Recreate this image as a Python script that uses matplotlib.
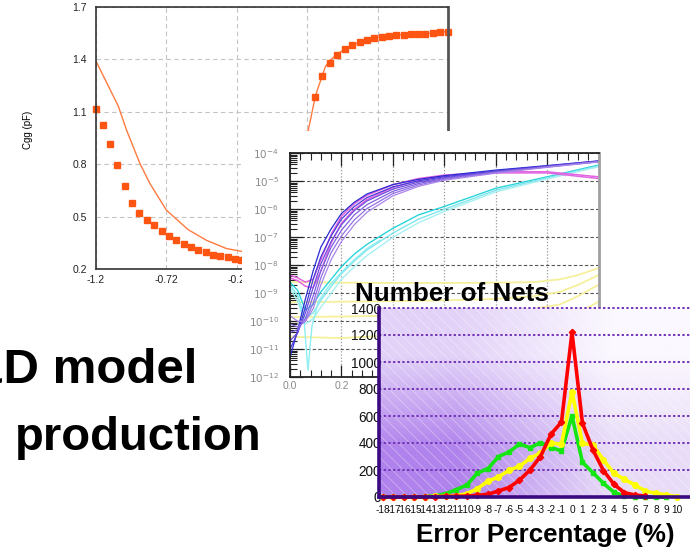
import matplotlib
matplotlib.use('Agg')
import matplotlib.pyplot as plt
import numpy as np
from matplotlib.patches import Rectangle
from matplotlib.ticker import LogLocator, MultipleLocator, NullFormatter

plt.rcParams['font.family'] = ['Liberation Sans', 'DejaVu Sans']
plt.rcParams['hatch.linewidth'] = 0.6

# ---------------- data: Cgg chart ----------------
cgg_meas_left_x = [-1.2, -1.150, -1.098, -1.049, -0.997, -0.942, -0.893, -0.838, -0.786, -0.734,
                   -0.682, -0.630, -0.578, -0.526, -0.474, -0.420, -0.368, -0.318, -0.264, -0.212, -0.167]
cgg_meas_left_y = [1.117, 1.025, 0.917, 0.796, 0.676, 0.580, 0.521, 0.481, 0.450, 0.420,
                   0.391, 0.367, 0.345, 0.326, 0.311, 0.298, 0.282, 0.275, 0.267, 0.259, 0.254]
cgg_model_left_x = [-1.2, -1.042, -0.983, -0.888, -0.817, -0.699, -0.545, -0.415, -0.273, -0.179, -0.037]
cgg_model_left_y = [1.390, 1.133, 0.995, 0.804, 0.689, 0.536, 0.425, 0.364, 0.317, 0.303, 0.280]
cgg_meas_right_x = [0.306, 0.358, 0.408, 0.462, 0.514, 0.568, 0.620, 0.672, 0.724, 0.776,
                    0.828, 0.880, 0.932, 0.984, 1.036, 1.088, 1.140, 1.193, 1.244, 1.299]
cgg_meas_right_y = [0.975, 1.182, 1.303, 1.379, 1.425, 1.459, 1.482, 1.497, 1.511, 1.522,
                    1.530, 1.536, 1.540, 1.541, 1.543, 1.545, 1.547, 1.551, 1.555, 1.559]
cgg_model_right_x = [0.29, 0.306, 0.325, 0.345, 0.37, 0.40, 0.43, 0.462, 0.514, 0.568, 0.62, 0.672,
                     0.724, 0.776, 0.828, 0.88, 0.932, 0.984, 1.036, 1.088, 1.14, 1.193, 1.244, 1.3]
cgg_model_right_y = [0.75, 0.99, 1.06, 1.14, 1.22, 1.29, 1.36, 1.395, 1.43, 1.46, 1.482, 1.497,
                     1.511, 1.522, 1.53, 1.536, 1.54, 1.541, 1.543, 1.545, 1.547, 1.551, 1.555, 1.56]
cgg_xticks = [-1.2, -0.7, -0.2, 0.3, 0.8, 1.3]
cgg_xticklabels = ['-1.2', '-0.72', '-0.2', '0.3', '0.8', '1.3']
cgg_yticks = [0.2, 0.5, 0.8, 1.1, 1.4, 1.7]

# ---------------- data: log chart (log10 of current) ----------------
iv_x = [0, 0.03, 0.06, 0.09, 0.12, 0.16, 0.2, 0.25, 0.3, 0.4, 0.5, 0.6, 0.8, 1.0, 1.2]
iv_purple = [
    [-11.3, -10.3, -9.2, -8.2, -7.35, -6.7, -6.15, -5.75, -5.45, -5.12, -4.93, -4.80, -4.60, -4.44, -4.27],
    [-11.0, -10.4, -9.5, -8.5, -7.70, -6.95, -6.35, -5.90, -5.58, -5.20, -4.98, -4.84, -4.63, -4.45, -4.28],
    [-10.7, -10.4, -9.7, -8.8, -7.95, -7.15, -6.55, -6.05, -5.70, -5.28, -5.03, -4.87, -4.65, -4.47, -4.29],
    [-10.4, -10.3, -9.9, -9.1, -8.20, -7.35, -6.75, -6.20, -5.83, -5.36, -5.08, -4.90, -4.67, -4.48, -4.30],
    [-10.1, -10.2, -10.0, -9.35, -8.45, -7.55, -6.95, -6.38, -5.97, -5.44, -5.13, -4.93, -4.69, -4.49, -4.30],
    [-9.8, -10.0, -10.0, -9.55, -8.70, -7.80, -7.15, -6.55, -6.10, -5.52, -5.18, -4.96, -4.71, -4.50, -4.31],
]
iv_magenta = [
    [-8.35, -8.45, -8.6, -8.5, -7.8, -6.9, -6.25, -5.8, -5.5, -5.12, -4.90, -4.78, -4.66, -4.66, -4.84],
    [-8.45, -8.55, -8.75, -8.8, -8.2, -7.2, -6.5, -6.0, -5.65, -5.22, -4.97, -4.83, -4.70, -4.70, -4.90],
]
iv_cyan = [
    [-8.6, -8.9, -9.6, -9.4, -8.95, -8.5, -8.05, -7.6, -7.25, -6.68, -6.2, -5.9, -5.25, -4.84, -4.42],
    [-8.7, -9.1, -9.9, -9.7, -9.25, -8.75, -8.3, -7.85, -7.45, -6.85, -6.35, -6.0, -5.32, -4.88, -4.45],
    [-8.8, -9.3, -10.1, -9.9, -9.5, -9.0, -8.5, -8.05, -7.65, -7.0, -6.48, -6.08, -5.38, -4.92, -4.48],
]
iv_cyan_dip_x = [0, 0.03, 0.055, 0.07, 0.085, 0.11, 0.15, 0.2, 0.25, 0.3, 0.35]
iv_cyan_dip_y = [-8.7, -9.1, -10.0, -11.75, -10.2, -9.3, -8.75, -8.25, -7.8, -7.4, -7.1]
iv_yellow_x = [0, 0.2, 0.4, 0.6, 0.8, 0.95, 1.05, 1.12, 1.2]
iv_yellow = [
    [-8.60, -8.62, -8.63, -8.63, -8.62, -8.60, -8.50, -8.35, -8.10],
    [-9.32, -9.30, -9.28, -9.25, -9.20, -9.10, -8.95, -8.70, -8.35],
    [-9.85, -9.83, -9.80, -9.75, -9.68, -9.55, -9.40, -9.10, -8.70],
    [-10.55, -10.60, -10.50, -10.40, -10.30, -10.20, -10.00, -9.70, -9.30],
]
iv_xticks = [0.0, 0.2, 0.4, 0.6, 0.8, 1.0, 1.2]
iv_decades = [-12, -11, -10, -9, -8, -7, -6, -5, -4]

# ---------------- data: error histogram ----------------
err_cats = ['-18', '-17', '-16', '-15', '-14', '-13', '-12', '-11', '-10', '-9', '-8', '-7', '-6', '-5', '-4',
            '-3', '-2', '-1', '0', '1', '2', '3', '4', '5', '6', '7', '8', '9', '10']
err_red = [0, 0, 0, 0, 2, 2, 5, 5, 7, 12, 20, 45, 70, 125, 200, 300, 465, 555, 1220, 545, 348, 195, 94, 32, 15, 7]
err_yellow = [0, 0, 0, 0, 2, 4, 6, 10, 25, 62, 118, 148, 198, 227, 287, 326, 400, 390, 780, 397, 385, 274,
              175, 131, 89, 44, 27, 15, 3]
err_green = [0, 0, 0, 0, 3, 10, 25, 55, 90, 178, 210, 300, 333, 392, 365, 402, 365, 343, 600, 257, 180, 101,
             35, 7, 2, 0, 0, 0]
err_yticks = [0, 200, 400, 600, 800, 1000, 1200, 1400]

# ---------------- figure ----------------
W, H = 690, 550
fig = plt.figure(figsize=(6.9, 5.5), dpi=100)


def frect(x0, y0, x1, y1):
    return [x0 / W, 1 - y1 / H, (x1 - x0) / W, (y1 - y0) / H]


# ---- Cgg chart ----
ax1 = fig.add_axes(frect(96, 7, 448, 269), zorder=1)
ax1.set_xlim(-1.2, 1.3)
ax1.set_ylim(0.2, 1.7)
ax1.set_xticks(cgg_xticks)
ax1.set_xticklabels(cgg_xticklabels)
ax1.set_yticks(cgg_yticks)
ax1.grid(True, ls=(0, (4, 3)), color='#c4c4c4', lw=0.8)
ax1.tick_params(length=0, labelsize=7.5, colors='#222222')
ax1.tick_params(axis='y', pad=6.5)
ax1.tick_params(axis='x', pad=4)
for s in ['left', 'top', 'bottom']:
    ax1.spines[s].set_color('#333333')
    ax1.spines[s].set_linewidth(1.2)
ax1.spines['right'].set_color('#555555')
ax1.spines['right'].set_linewidth(2)
ax1.plot(cgg_model_left_x, cgg_model_left_y, color='#ff7a40', lw=1.0)
ax1.plot(cgg_model_right_x, cgg_model_right_y, color='#ff7a40', lw=1.0)
ax1.plot(cgg_meas_left_x, cgg_meas_left_y, ls='none', marker='s', ms=4.3, color='#ff5512', clip_on=False)
ax1.plot(cgg_meas_right_x, cgg_meas_right_y, ls='none', marker='s', ms=4.3, color='#ff5512', clip_on=False)
ax1.set_ylabel('Cgg (pF)', fontsize=7)
ax1.yaxis.set_label_coords(-0.178, 0.53)

# white sheet behind the log chart
fig.add_artist(Rectangle((242 / W, 1 - 392 / H), (605 - 242) / W, (392 - 131) / H,
                         transform=fig.transFigure, facecolor='white', edgecolor='none', zorder=1.5))

# ---- log I-V chart ----
ax2 = fig.add_axes(frect(290, 153.3, 598.5, 377.3), zorder=2)
ax2.set_yscale('log')
ax2.set_xlim(0, 1.2)
ax2.set_ylim(1e-12, 1e-4)
for v in iv_yellow:
    ax2.plot(iv_yellow_x, 10.0 ** np.array(v), color='#f6f09a', lw=1.3)
cyan_cols = ['#28d4dc', '#7ee6ec', '#a8f0f2']
for v, c in zip(iv_cyan, cyan_cols):
    ax2.plot(iv_x, 10.0 ** np.array(v), color=c, lw=1.0)
ax2.plot(iv_cyan_dip_x, 10.0 ** np.array(iv_cyan_dip_y), color='#8eeef2', lw=1.0)
for v in iv_magenta:
    ax2.plot(iv_x, 10.0 ** np.array(v), color='#e264e2', lw=1.1)
purple_cols = ['#2a2ad0', '#4a3ad8', '#6a4ee0', '#7f5fe0', '#9470e4', '#a884ea']
for v, c in zip(iv_purple, purple_cols):
    ax2.plot(iv_x, 10.0 ** np.array(v), color=c, lw=0.9)
ax2.set_yticks([10.0 ** d for d in iv_decades])
ax2.set_yticklabels([r'$10^{%d}$' % d for d in iv_decades])
ax2.yaxis.set_minor_locator(LogLocator(base=10, subs=np.arange(2, 10) * 1.0, numticks=30))
ax2.yaxis.set_minor_formatter(NullFormatter())
ax2.set_xticks(iv_xticks)
ax2.set_xticklabels(['%.1f' % t for t in iv_xticks])
ax2.xaxis.set_minor_locator(MultipleLocator(0.04))
ax2.tick_params(which='both', direction='in', top=True, right=False, colors='#222222',
                labelcolor='#8a8a8a', labelsize=7.5)
ax2.tick_params(which='major', length=9, width=0.9)
ax2.tick_params(which='minor', length=5, width=0.8)
ax2.tick_params(axis='y', pad=8)
ax2.tick_params(axis='x', pad=3)
ax2.grid(True, which='major', axis='y', ls=(0, (3, 2)), color='#555555', lw=0.8)
ax2.grid(True, which='major', axis='x', ls=(0, (1, 1.5)), color='#9a9a9a', lw=0.9)
for s in ['left', 'top', 'bottom']:
    ax2.spines[s].set_color('#222222')
    ax2.spines[s].set_linewidth(1.3)
ax2.spines['right'].set_color('#a0a0a0')
ax2.spines['right'].set_linewidth(2)

# ---- error histogram ----
ax3 = fig.add_axes(frect(379, 308, 690, 497), zorder=3)
ax3.patch.set_alpha(0)
xpos = np.arange(len(err_cats))
c_tl = np.array([0xe2, 0xd2, 0xf8]) / 255
c_tr = np.array([0xfb, 0xf8, 0xff]) / 255
c_bl = np.array([0xb0, 0x82, 0xec]) / 255
c_br = np.array([0xe8, 0xdc, 0xf8]) / 255
grad = np.array([[c_tl, c_tr], [c_bl, c_br]])
ax3.imshow(grad, extent=[0, 1, 0, 1], transform=ax3.transAxes, aspect='auto',
           interpolation='bilinear', zorder=0)
ax3.add_patch(Rectangle((0, 0), 1, 1, transform=ax3.transAxes, facecolor='none',
                        edgecolor=(1, 1, 1, 0.35), hatch='\\\\\\', lw=0, zorder=0.5))
ax3.set_xlim(-0.38, 29.24)
ax3.set_ylim(0, 1400)
for yv in err_yticks[1:]:
    ax3.axhline(yv, color='#7436b8', lw=1.4, ls=(0, (1.2, 1.2)), zorder=1, clip_on=False)
ax3.plot(xpos[:len(err_green)], err_green, color='#14e614', lw=2.6, marker='s', ms=3.5, zorder=3,
         clip_on=False)
ax3.plot(xpos[:len(err_yellow)], err_yellow, color='#ffff00', lw=2.6, marker='o', ms=4, zorder=4,
         clip_on=False)
ax3.plot(xpos[:len(err_red)], err_red, color='#ff0000', lw=2.6, marker='D', ms=3.2, zorder=5,
         clip_on=False)
ax3.set_xticks(xpos)
ax3.set_xticklabels(err_cats)
ax3.set_yticks(err_yticks)
ax3.tick_params(axis='x', length=0, labelsize=7.3, pad=6, colors='#111111')
ax3.tick_params(axis='y', length=0, labelsize=9.8, pad=-1.5, colors='#111111')
for s in ['top', 'right']:
    ax3.spines[s].set_visible(False)
for s in ['left', 'bottom']:
    ax3.spines[s].set_color('#3c0a80')
    ax3.spines[s].set_linewidth(2.6)
    ax3.spines[s].set_zorder(6)

fig.text(355 / W, 1 - 300.7 / H, 'Number of Nets', fontsize=18.7, fontweight='bold',
         ha='left', va='baseline', color='#000000', zorder=10)
fig.text(545 / W, 1 - 541.7 / H, 'Error Percentage (%)', fontsize=18.7, fontweight='bold',
         ha='center', va='baseline', color='#000000', zorder=10)

# ---- slide text ----
fig.text(197 / W, 1 - 383.3 / H, '&D model', fontsize=35.4, fontweight='bold',
         ha='right', va='baseline', color='#000000', zorder=10)
fig.text(15 / W, 1 - 450.5 / H, 'production', fontsize=34, fontweight='bold',
         ha='left', va='baseline', color='#000000', zorder=10)

fig.savefig('out.png', dpi=100)
